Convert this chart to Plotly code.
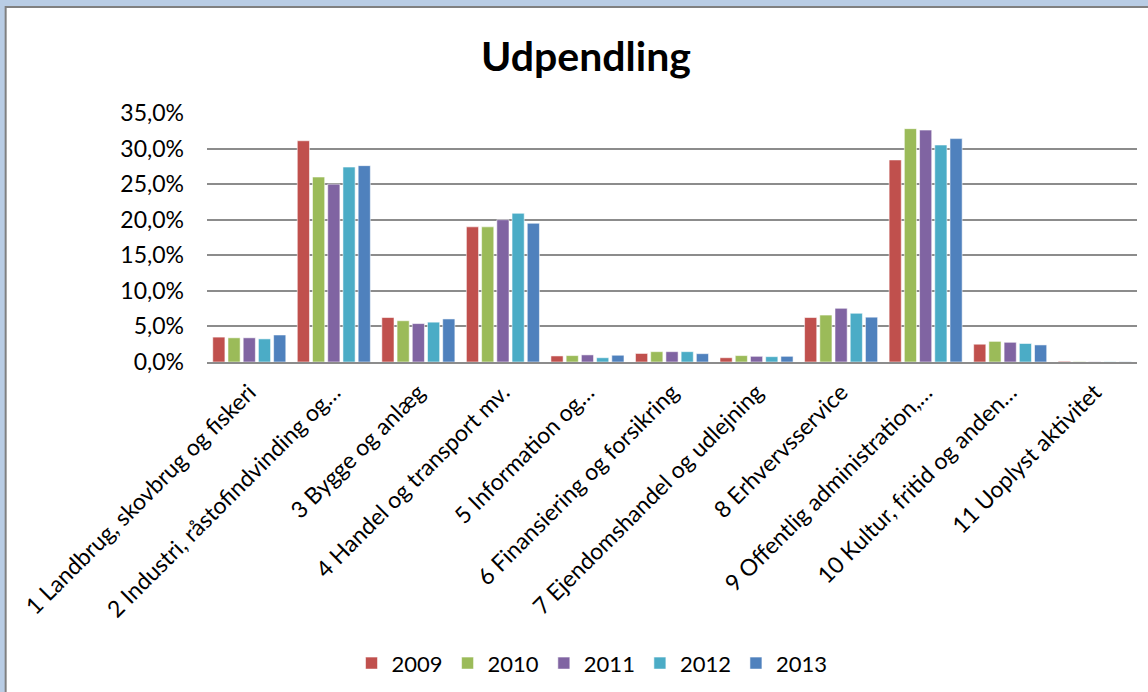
import plotly.graph_objects as go

categories = [
    "1 Landbrug, skovbrug og fiskeri",
    "2 Industri, råstofindvinding og…",
    "3 Bygge og anlæg",
    "4 Handel og transport mv.",
    "5 Information og…",
    "6 Finansiering og forsikring",
    "7 Ejendomshandel og udlejning",
    "8 Erhvervsservice",
    "9 Offentlig administration,…",
    "10 Kultur, fritid og anden…",
    "11 Uoplyst aktivitet",
]

years = ["2009", "2010", "2011", "2012", "2013"]

v2009 = [0.035, 0.311, 0.0625, 0.190, 0.0085, 0.012, 0.006, 0.0625, 0.284, 0.025, 0.001]
v2010 = [0.034, 0.260, 0.058, 0.190, 0.009, 0.0145, 0.009, 0.066, 0.328, 0.029, 0.0005]
v2011 = [0.034, 0.250, 0.054, 0.200, 0.010, 0.0145, 0.008, 0.0755, 0.326, 0.0277, 0.0003]
v2012 = [0.0325, 0.274, 0.056, 0.209, 0.006, 0.0145, 0.0075, 0.0685, 0.305, 0.026, 0.0003]
v2013 = [0.038, 0.276, 0.0605, 0.195, 0.0095, 0.0117, 0.008, 0.063, 0.314, 0.024, 0.0003]

series = [v2009, v2010, v2011, v2012, v2013]
colors = ["#C0504D", "#9BBB59", "#8064A2", "#4BACC6", "#4F81BD"]

FONT = "Lato, Calibri, sans-serif"
GRID = "#8c8c8c"

fig = go.Figure()
for year, vals, col in zip(years, series, colors):
    fig.add_bar(x=categories, y=vals, name=year, marker_color=col,
                marker_line=dict(color="rgba(255,255,255,0.55)", width=1))

# window-like frame around the chart area (light blue band + gray edge)
fig.add_shape(type="rect", xref="paper", yref="paper", layer="below",
              x0=-0.2165, x1=1.05, y0=-1.5, y1=1.4257,
              fillcolor="white", line=dict(color="#808080", width=2))

fig.update_layout(
    width=1148, height=692,
    margin=dict(l=207, r=11, t=113, b=330, autoexpand=False),
    paper_bgcolor="#b9cde5",
    plot_bgcolor="rgba(0,0,0,0)",
    separators=", ",
    font=dict(family=FONT, color="black", size=23),
    title=dict(text="<b>Udpendling</b>", x=0.4075, xref="paper", xanchor="center",
               y=1 - 57 / 692, yref="container", yanchor="middle",
               font=dict(family=FONT, size=41, color="black")),
    barmode="group", bargap=0.1, bargroupgap=0.2,
    legend=dict(orientation="h", x=0.414, xanchor="center", y=-1.21, yanchor="middle",
                font=dict(family=FONT, size=22), bgcolor="rgba(0,0,0,0)",
                itemwidth=30, traceorder="normal"),
    showlegend=True,
)
fig.update_yaxes(range=[0, 0.35], dtick=0.05, tickformat=".1%", showgrid=True,
                 gridcolor=GRID, gridwidth=1.5, zeroline=False, showline=False,
                 automargin=False, ticklabelstandoff=22,
                 tickfont=dict(family=FONT, size=23))
fig.update_xaxes(tickangle=-45, showline=True, linecolor=GRID, linewidth=1.5,
                 showgrid=False, automargin=False, ticklabelstandoff=6,
                 tickfont=dict(family=FONT, size=23))

fig.write_html("out.html", config={"displayModeBar": False},
               post_script="document.body.style.margin='0';")
